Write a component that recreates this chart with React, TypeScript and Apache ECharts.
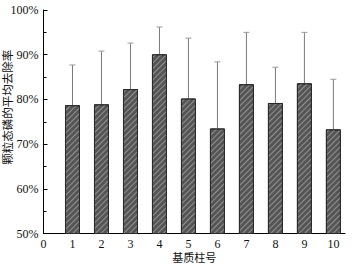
import React, { useEffect, useRef } from "react";
import * as echarts from "echarts";

const columns = [1, 2, 3, 4, 5, 6, 7, 8, 9, 10];
const meanRemoval = [78.7, 78.9, 82.3, 90.1, 80.2, 73.5, 83.4, 79.2, 83.6, 73.3];
const errorTop = [87.7, 90.8, 92.6, 96.2, 93.7, 88.4, 95.0, 87.2, 95.0, 84.5];
const yTicks = [50, 60, 70, 80, 90, 100];
const xTicks = [0, 1, 2, 3, 4, 5, 6, 7, 8, 9, 10];

const serif = "Liberation Serif";
const cjk = "Noto Sans CJK SC";

export default function App() {
  const ref = useRef<HTMLDivElement>(null);
  useEffect(() => {
    if (!ref.current) return;
    const chart = echarts.init(ref.current, null, { renderer: "svg" });
    const barData = columns.map((c, i) => [c, meanRemoval[i]]);
    const errData = columns.map((c, i) => [c, meanRemoval[i], errorTop[i]]);
    chart.setOption({
      animation: false,
      backgroundColor: "#fff",
      grid: { left: 43.5, right: 9, top: 10, bottom: 34.5, containLabel: false, outerBoundsMode: "none" },
      xAxis: {
        type: "value",
        min: 0,
        max: 10.4,
        interval: 1,
        name: "基质柱号",
        nameLocation: "middle",
        nameGap: 18,
        nameMoveOverlap: false,
        nameTextStyle: { fontFamily: cjk, fontSize: 11, color: "#111" },
        axisLine: { show: true, onZero: false, lineStyle: { color: "#000", width: 1 } },
        axisTick: { show: false },
        splitLine: { show: false },
        axisLabel: {
          fontFamily: serif,
          fontSize: 12,
          color: "#111",
          margin: 4,
          formatter: (v: number) => (xTicks.includes(v) ? String(v) : ""),
        },
      },
      yAxis: {
        type: "value",
        min: yTicks[0],
        max: yTicks[yTicks.length - 1],
        interval: 10,
        name: "颗粒态磷的平均去除率",
        nameLocation: "middle",
        nameGap: 31,
        nameMoveOverlap: false,
        nameTextStyle: { fontFamily: cjk, fontSize: 11.5, color: "#111", padding: [0, 0, 0, 29] },
        axisLine: { show: true, lineStyle: { color: "#000", width: 1 } },
        axisTick: { show: true, inside: true, length: 4, lineStyle: { color: "#000" } },
        minorTick: { show: true, splitNumber: 2, length: 3, lineStyle: { color: "#000" } },
        splitLine: { show: false },
        axisLabel: {
          fontFamily: serif,
          fontSize: 12,
          color: "#111",
          margin: 5,
          formatter: (v: number) => v + "%",
        },
      },
      series: [
        {
          type: "bar",
          data: barData,
          barWidth: 15,
          itemStyle: {
            color: "#555555",
            borderColor: "#2a2a2a",
            borderWidth: 1,
            decal: {
              symbol: "rect",
              symbolSize: 1,
              dashArrayX: [1, 0],
              dashArrayY: [1, 3],
              rotation: -Math.PI / 4,
              color: "rgba(160,160,160,0.8)",
            },
          },
          z: 3,
        },
        {
          type: "custom",
          data: errData,
          z: 2,
          renderItem: (params: any, api: any) => {
            const x = api.value(0);
            const lo = api.coord([x, api.value(1)]);
            const hi = api.coord([x, api.value(2)]);
            const cap = 3;
            return {
              type: "group",
              children: [
                {
                  type: "line",
                  shape: { x1: lo[0], y1: lo[1], x2: hi[0], y2: hi[1] },
                  style: { stroke: "#7a7a7a", lineWidth: 1 },
                },
                {
                  type: "line",
                  shape: { x1: hi[0] - cap, y1: hi[1], x2: hi[0] + cap, y2: hi[1] },
                  style: { stroke: "#9a9a9a", lineWidth: 1 },
                },
              ],
            };
          },
        },
      ],
    });
    return () => chart.dispose();
  }, []);
  return <div ref={ref} style={{ width: 354, height: 268, position: "absolute", left: 0, top: 0 }} />;
}
